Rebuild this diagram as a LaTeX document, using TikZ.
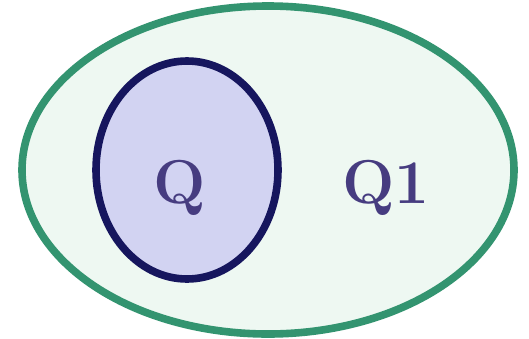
\documentclass[tikz,border=0pt]{standalone}
\usetikzlibrary{shapes.geometric}
\definecolor{verdeborde}{HTML}{339470}
\definecolor{verdefondo}{HTML}{EEF8F2}
\definecolor{marino}{HTML}{16165E}
\definecolor{lila}{HTML}{D2D3F2}
\definecolor{violeta}{HTML}{463C80}
\tikzset{
  conjunto/.style={ellipse, line width=3.8pt, inner sep=0pt},
  etiqueta/.style={font=\fontsize{31}{34}\selectfont\bfseries, text=violeta, anchor=base, inner sep=0pt}
}
\begin{document}
\begin{tikzpicture}[x=0.5pt, y=-0.5pt]
  \useasboundingbox (0,0) rectangle (529,338);
  \node (q1set) [conjunto, draw=verdeborde, fill=verdefondo, minimum width=246pt, minimum height=164pt] at (268,170) {};
  \node (qset) [conjunto, draw=marino, fill=lila, minimum width=91pt, minimum height=109pt] at (187,170) {};
  \node (q) [etiqueta] at (180,203) {Q};
  \node (q1) [etiqueta] at (386,203) {Q1};
\end{tikzpicture}
\end{document}
